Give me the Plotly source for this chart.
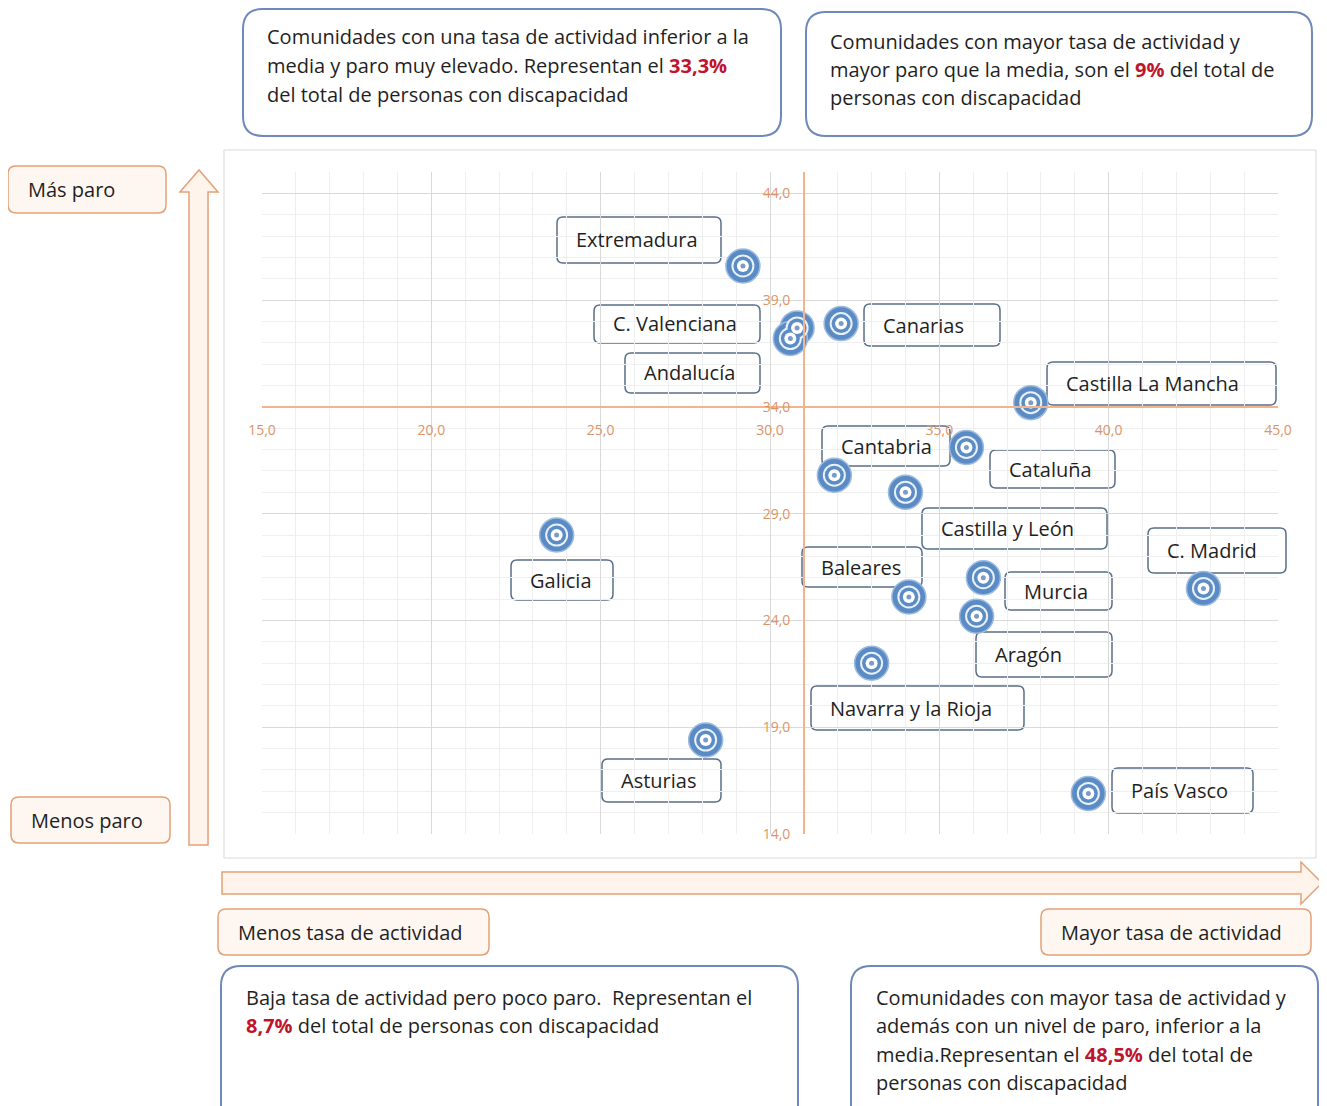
import plotly.graph_objects as go

# Datos: tasa de actividad (x) y tasa de paro (y) de personas con discapacidad
comunidades = [
    "Extremadura", "C. Valenciana", "Andalucía", "Canarias", "Castilla La Mancha",
    "Cataluña", "Cantabria", "Castilla y León", "Galicia", "C. Madrid",
    "Murcia", "Baleares", "Aragón", "Navarra y la Rioja", "Asturias", "País Vasco",
]
tasa_actividad = [29.2, 30.8, 30.6, 32.1, 37.7, 35.8, 31.9, 34.0, 23.7, 42.8,
                  36.3, 34.1, 36.1, 33.0, 28.1, 39.4]
tasa_paro = [40.6, 37.7, 37.2, 37.9, 34.2, 32.1, 30.8, 30.0, 28.0, 25.5,
             26.0, 25.1, 24.2, 22.0, 18.4, 15.9]

media_actividad = 31.0
media_paro = 34.0

rojo = "#c0142c"
textos_cuadrantes = [
    ["Comunidades con una tasa de actividad inferior a la",
     f"media y paro muy elevado. Representan el <b><span style='color:{rojo}'>33,3%</span></b>",
     "del total de personas con discapacidad"],
    ["Comunidades con mayor tasa de actividad y",
     f"mayor paro que la media, son el <b><span style='color:{rojo}'>9%</span></b> del total de",
     "personas con discapacidad"],
    ["Baja tasa de actividad pero poco paro.  Representan el",
     f"<b><span style='color:{rojo}'>8,7%</span></b> del total de personas con discapacidad"],
    ["Comunidades con mayor tasa de actividad y",
     "además con un nivel de paro, inferior a la",
     f"media.Representan el <b><span style='color:{rojo}'>48,5%</span></b> del total de",
     "personas con discapacidad"],
]
textos_ejes = ["Más paro", "Menos paro", "Menos tasa de actividad", "Mayor tasa de actividad"]

# El navegador deja 8 px de margen en el body: se trabaja en píxeles de la
# imagen de referencia y se restan al convertir.
DESP = 8
W, H = 1327 - DESP, 1106 - DESP
FUENTE = "Open Sans"
TAM = 20
COLOR_TEXTO = "#1f1f1f"


def px(x):
    return (x - DESP) / W


def py(y):
    return 1 - (y - DESP) / H


def caja_redondeada(x0, y0, x1, y1, r):
    """Ruta SVG (coordenadas paper) de un rectángulo redondeado dado en píxeles."""
    pasos = [
        ("M", [(x0 + r, y0)]), ("L", [(x1 - r, y0)]), ("Q", [(x1, y0), (x1, y0 + r)]),
        ("L", [(x1, y1 - r)]), ("Q", [(x1, y1), (x1 - r, y1)]),
        ("L", [(x0 + r, y1)]), ("Q", [(x0, y1), (x0, y1 - r)]),
        ("L", [(x0, y0 + r)]), ("Q", [(x0, y0), (x0 + r, y0)]),
    ]
    s = ""
    for cmd, pts in pasos:
        s += cmd + " " + " ".join(f"{px(a):.5f},{py(b):.5f}" for a, b in pts) + " "
    return s + "Z"


def poligono(pts):
    return "M " + " L ".join(f"{px(a):.5f},{py(b):.5f}" for a, b in pts) + " Z"


# Área de trazado (píxeles)
X0, X1, Y0, Y1 = 262, 1278, 172, 834
xdom = [px(X0), px(X1)]
ydom = [py(Y1), py(Y0)]
xrango = [15, 45]
yrango = [14, 45]
pos_eje_x = ydom[0] + (media_paro - yrango[0]) / (yrango[1] - yrango[0]) * (ydom[1] - ydom[0])
pos_eje_y = xdom[0] + (media_actividad - xrango[0]) / (xrango[1] - xrango[0]) * (xdom[1] - xdom[0])

fig = go.Figure()

# Marcadores tipo diana
capas = [
    dict(size=34, color="#5a8bc5", line=dict(color="#9dbbe0", width=1.5)),
    dict(size=23, color="#e8f0f9", line=dict(width=0)),
    dict(size=19, color="#5b8cc6", line=dict(width=0)),
    dict(size=12, color="white", line=dict(width=0)),
    dict(size=5, color="#7d9cc4", line=dict(width=0)),
]
for capa in capas:
    fig.add_trace(go.Scatter(
        x=tasa_actividad, y=tasa_paro, mode="markers", marker=capa,
        text=comunidades, hovertemplate="%{text}: %{x:.1f} / %{y:.1f}<extra></extra>",
        showlegend=False,
    ))

shapes = []
annotations = []

# Marco del gráfico
shapes.append(dict(type="rect", xref="paper", yref="paper", x0=px(224), x1=px(1316),
                   y0=py(858), y1=py(150), line=dict(color="#d9d9d9", width=1), layer="below"))

# Etiquetas de las comunidades (cajas en píxeles)
cajas_etiquetas = [
    (557, 217, 721, 263), (594, 305, 760, 343), (625, 353, 760, 393), (864, 304, 1000, 346),
    (1047, 362, 1276, 405), (990, 450, 1115, 488), (822, 426, 950, 466), (922, 508, 1107, 549),
    (511, 560, 613, 600), (1148, 528, 1286, 573), (1005, 572, 1112, 610), (802, 547, 922, 587),
    (976, 632, 1112, 677), (811, 686, 1024, 730), (602, 759, 721, 802), (1112, 768, 1253, 813),
]
for nombre, (a, b, c, d) in zip(comunidades, cajas_etiquetas):
    shapes.append(dict(type="path", xref="paper", yref="paper", path=caja_redondeada(a, b, c, d, 6),
                       line=dict(color="#5a6e88", width=1.5), fillcolor="white", layer="between"))
    annotations.append(dict(xref="paper", yref="paper", x=px(a + 17), y=py((b + d) / 2),
                            text=nombre, showarrow=False, xanchor="left", yanchor="middle",
                            font=dict(family=FUENTE, size=TAM, color=COLOR_TEXTO)))

# Cajas de cuadrantes
cajas_cuadrantes = [(243, 9, 781, 136), (806, 12, 1312, 136), (221, 966, 798, 1130), (851, 966, 1318, 1130)]
origen_texto = [(265, 37), (828, 41), (244, 997), (874, 997)]
for (a, b, c, d), (tx, ty), lineas in zip(cajas_cuadrantes, origen_texto, textos_cuadrantes):
    shapes.append(dict(type="path", xref="paper", yref="paper", path=caja_redondeada(a, b, c, d, 20),
                       line=dict(color="#6f89b8", width=2), fillcolor="white", layer="above"))
    for i, linea in enumerate(lineas):
        annotations.append(dict(xref="paper", yref="paper", x=px(tx), y=py(ty + i * 28.5),
                                text=linea, showarrow=False, xanchor="left", yanchor="middle",
                                font=dict(family=FUENTE, size=TAM, color=COLOR_TEXTO)))

# Etiquetas naranjas de los ejes
naranja = "#e3a176"
cajas_ejes = [(8, 166, 166, 213), (11, 797, 170, 843), (218, 909, 489, 955), (1041, 909, 1311, 955)]
for texto, (a, b, c, d) in zip(textos_ejes, cajas_ejes):
    shapes.append(dict(type="path", xref="paper", yref="paper", path=caja_redondeada(a, b, c, d, 8),
                       line=dict(color=naranja, width=1.5), fillcolor="#fef7f1", layer="above"))
    annotations.append(dict(xref="paper", yref="paper", x=px(a + 18), y=py((b + d) / 2),
                            text=texto, showarrow=False, xanchor="left", yanchor="middle",
                            font=dict(family=FUENTE, size=TAM, color=COLOR_TEXTO)))

# Flechas
shapes.append(dict(type="path", xref="paper", yref="paper",
                   path=poligono([(189, 845), (189, 192), (180, 192), (199, 170), (218, 192), (208, 192), (208, 845)]),
                   line=dict(color=naranja, width=1.5), fillcolor="#fef4ec", layer="above"))
shapes.append(dict(type="path", xref="paper", yref="paper",
                   path=poligono([(222, 872), (1301, 872), (1301, 862), (1322, 883), (1301, 904), (1301, 894), (222, 894)]),
                   line=dict(color=naranja, width=1.5), fillcolor="#fef4ec", layer="above"))

eje = dict(
    showgrid=True, gridcolor="#d9d9d9", gridwidth=1,
    zeroline=False, showline=True, linecolor="#f2b48c", linewidth=1.5,
    tickformat=".1f", ticks="", anchor="free", automargin=False,
    tickfont=dict(family=FUENTE, size=14, color="#dc9465"),
    minor=dict(dtick=1, showgrid=True, gridcolor="#efefef", gridwidth=1),
)

fig.update_layout(
    width=W, height=H,
    margin=dict(l=0, r=0, t=0, b=0),
    paper_bgcolor="white", plot_bgcolor="white",
    separators=",.",
    showlegend=False,
    xaxis=dict(eje, domain=xdom, range=xrango, tick0=15, dtick=5,
               position=pos_eje_x, ticklabelstandoff=11),
    yaxis=dict(eje, domain=ydom, range=yrango, tick0=14, dtick=5,
               position=pos_eje_y, ticklabelstandoff=10),
    shapes=shapes,
    annotations=annotations,
)

fig.write_html("out.html")
